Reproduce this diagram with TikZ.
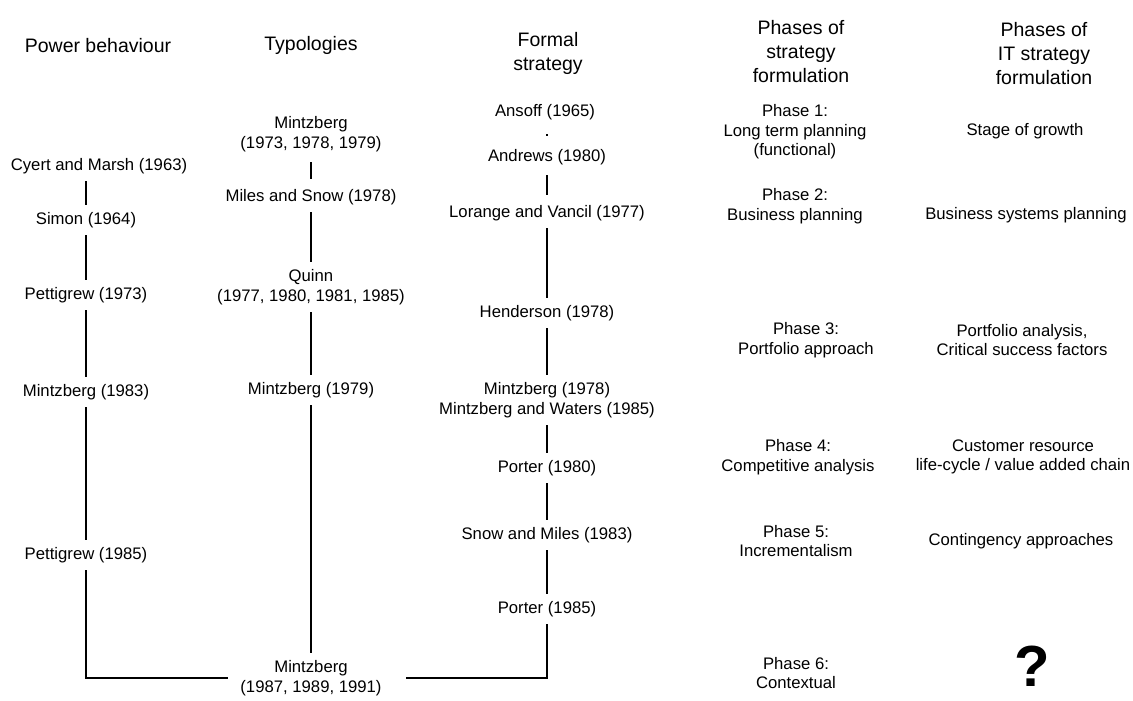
\documentclass[tikz,border=0pt]{standalone}
\usepackage{fontspec}
\setmainfont{Liberation Sans}
\begin{document}
\begin{tikzpicture}[x=1pt,y=-1pt,
  lbl/.style={font=\fontsize{16.7}{19.5}\selectfont, align=center, inner xsep=4pt, inner ysep=7.5pt},
  hdr/.style={font=\fontsize{19.5}{24}\selectfont, align=center, inner sep=0pt},
  conn/.style={line width=1.3pt, black}]
\useasboundingbox[fill=white] (0,0) rectangle (1133,701);
% headers
\node[hdr] (hpow) at (98,46) {Power behaviour};
\node[hdr] (htyp) at (311,45) {Typologies};
\node[hdr] (hfor) at (548,53) {Formal\\strategy};
\node[hdr] (hpha) at (801,52) {Phases of\\strategy\\formulation};
\node[hdr] (hit) at (1044,54) {Phases of\\IT strategy\\formulation};
% power behaviour
\node[lbl] (cyert) at (99,166) {Cyert and Marsh (1963)};
\node[lbl] (simon) at (86,220) {Simon (1964)};
\node[lbl] (pet73) at (86,295) {Pettigrew (1973)};
\node[lbl] (min83) at (86,392) {Mintzberg (1983)};
\node[lbl] (pet85) at (86,555) {Pettigrew (1985)};
% typologies
\node[lbl] (min73) at (311,134) {Mintzberg\\(1973, 1978, 1979)};
\node[lbl] (miles) at (311,197) {Miles and Snow (1978)};
\node[lbl] (quinn) at (311,287) {Quinn\\(1977, 1980, 1981, 1985)};
\node[lbl] (min79) at (311,390) {Mintzberg (1979)};
\node[lbl] (minb) at (311,678) {Mintzberg\\(1987, 1989, 1991)};
% formal strategy
\node[lbl] (ansoff) at (545,112) {Ansoff (1965)};
\node[lbl] (andrews) at (547,157) {Andrews (1980)};
\node[lbl] (lorange) at (547,213) {Lorange and Vancil (1977)};
\node[lbl] (hend) at (547,313) {Henderson (1978)};
\node[lbl] (min78) at (547,400) {Mintzberg (1978)\\Mintzberg and Waters (1985)};
\node[lbl] (por80) at (547,468) {Porter (1980)};
\node[lbl] (snow) at (547,535) {Snow and Miles (1983)};
\node[lbl] (por85) at (547,609) {Porter (1985)};
% phases
\node[lbl] (ph1) at (795,132) {Phase 1:\\Long term planning\\(functional)};
\node[lbl] (ph2) at (795,206) {Phase 2:\\Business planning};
\node[lbl] (ph3) at (806,340) {Phase 3:\\Portfolio approach};
\node[lbl] (ph4) at (798,457) {Phase 4:\\Competitive analysis};
\node[lbl] (ph5) at (796,541) {Phase 5:\\Incrementalism};
\node[lbl] (ph6) at (796,673) {Phase 6:\\Contextual};
% IT phases
\node[lbl] (it1) at (1025,131) {Stage of growth};
\node[lbl] (it2) at (1026,215) {Business systems planning};
\node[lbl] (it3) at (1022,340) {Portfolio analysis,\\Critical success factors};
\node[lbl] (it4) at (1023,457) {Customer resource\\life-cycle / value added chain};
\node[lbl] (it5) at (1021,541) {Contingency approaches};
\node[font=\fontsize{58}{58}\selectfont\bfseries, inner sep=0pt] (it6) at (1032,666) {?};
% connectors: power behaviour
\draw[conn] (cyert.south -| simon.north) -- (simon.north);
\draw[conn] (simon.south) -- (pet73.north);
\draw[conn] (pet73.south) -- (min83.north);
\draw[conn] (min83.south) -- (pet85.north);
\draw[conn, shorten >=8pt] (pet85.south) |- (minb.west);
% typologies
\draw[conn, shorten <=3pt, shorten >=3pt] (min73.south) -- (miles.north);
\draw[conn] (miles.south) -- (quinn.north);
\draw[conn] (quinn.south) -- (min79.north);
\draw[conn] (min79.south) -- (minb.north);
% formal strategy
\draw[conn, shorten <=7pt, shorten >=6pt] (ansoff.south -| andrews.north) -- (andrews.north);
\draw[conn, shorten <=3pt, shorten >=3pt] (andrews.south) -- (lorange.north);
\draw[conn] (lorange.south) -- (hend.north);
\draw[conn] (hend.south) -- (min78.north);
\draw[conn] (min78.south) -- (por80.north);
\draw[conn] (por80.south) -- (snow.north);
\draw[conn] (snow.south) -- (por85.north);
\draw[conn, shorten >=20pt] (por85.south) |- (minb.east);
\end{tikzpicture}
\end{document}
